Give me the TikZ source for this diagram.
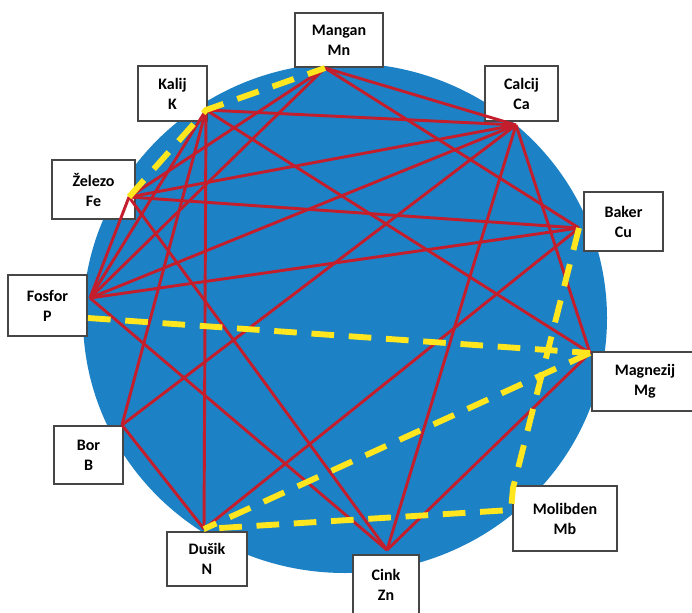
\documentclass[tikz,border=0pt]{standalone}
\usepackage{fontspec}
\setmainfont{Carlito}
\usepackage{xcolor}
\usepackage{tikz}
\definecolor{discblue}{RGB}{28,129,197}
\definecolor{linkred}{RGB}{196,30,44}
\definecolor{linkyellow}{RGB}{255,230,30}
\definecolor{boxgray}{RGB}{70,70,70}
\tikzset{
  element/.style={rectangle, draw=boxgray, fill=white, line width=0.9pt, align=center, inner sep=0pt, font=\bfseries\fontsize{12}{15}\selectfont},
  link/.style={linkred, line width=2.2pt},
  pair/.style={linkyellow, line width=4.4pt, dash pattern=on 17pt off 11pt}
}
\begin{document}
\begin{tikzpicture}[x=0.75pt, y=-0.75pt]
  \useasboundingbox (0,0) rectangle (692,613);
  \fill[discblue] (345,318) ellipse [x radius=196.5pt, y radius=191.25pt];

  % elements round the disc
  \node[element, minimum width=66pt, minimum height=40.5pt] (mangan) at (339,40) {Mangan\\Mn};
  \node[element, minimum width=51.75pt, minimum height=41.25pt] (kalij) at (172.5,93.5) {Kalij\\K};
  \node[element, minimum width=62.25pt, minimum height=44.25pt] (zelezo) at (93.5,189.5) {Železo\\Fe};
  \node[element, minimum width=59.25pt, minimum height=45.75pt] (fosfor) at (47.5,305.5) {Fosfor\\P};
  \node[element, minimum width=54.75pt, minimum height=41.25pt] (calcij) at (521.5,93.5) {Calcij\\Ca};
  \node[element, minimum width=59.25pt, minimum height=44.25pt] (baker) at (623.5,221.5) {Baker\\Cu};
  \node[element, minimum width=79.5pt, minimum height=44.25pt] (magnezij) at (645,381.5) {Magnezij\\Mg};
  \node[element, minimum width=51.75pt, minimum height=43.5pt] (bor) at (88.5,455) {Bor\\B};
  \node[element, minimum width=60pt, minimum height=40.5pt] (dusik) at (207,559) {Dušik\\N};
  \node[element, minimum width=49.5pt, minimum height=45pt] (cink) at (386,585) {Cink\\Zn};
  \node[element, minimum width=78pt, minimum height=48.75pt] (molibden) at (565,518.5) {Molibden\\Mb};

  % contact points on the boxes
  \coordinate (pMn) at (325,68);
  \coordinate (pK) at (206,110);
  \coordinate (pFe) at (129,197);
  \coordinate (pP) at (90,298);
  \coordinate (qP) at (88,318);
  \coordinate (pCa) at (516,125);
  \coordinate (pCu) at (579,228);
  \coordinate (pMg) at (590,353);
  \coordinate (pB) at (122,425);
  \coordinate (pN) at (204,529);
  \coordinate (pZn) at (387,550);
  \coordinate (qMb) at (513,488);
  \coordinate (rMb) at (511,510);

  % red links
  \draw[link] (pMn) -- (pCa);
  \draw[link] (pMn) -- (pCu);
  \draw[link] (pMn) -- (pFe);
  \draw[link] (pMn) -- (pP);
  \draw[link] (pK) -- (pCa);
  \draw[link] (pK) -- (pMg);
  \draw[link] (pK) -- (pN);
  \draw[link] (pK) -- (pP);
  \draw[link] (pK) -- (pB);
  \draw[link] (pFe) -- (pCa);
  \draw[link] (pFe) -- (pCu);
  \draw[link] (pFe) -- (pZn);
  \draw[link] (pFe) -- (pP);
  \draw[link] (pP) -- (pCa);
  \draw[link] (pP) -- (pCu);
  \draw[link] (pP) -- (pZn);
  \draw[link] (pB) -- (pCa);
  \draw[link] (pB) -- (pN);
  \draw[link] (pN) -- (pCu);
  \draw[link] (pCa) -- (pZn);
  \draw[link] (pCa) -- (pMg);
  \draw[link] (pZn) -- (pMg);

  % yellow pairs
  \draw[pair] (pFe) -- (pK) -- (pMn);
  \draw[pair] (qP) -- (pMg);
  \draw[pair] (pMg) -- (pN);
  \draw[pair] (pCu) -- (qMb) -- (rMb) -- (pN);
\end{tikzpicture}
\end{document}
